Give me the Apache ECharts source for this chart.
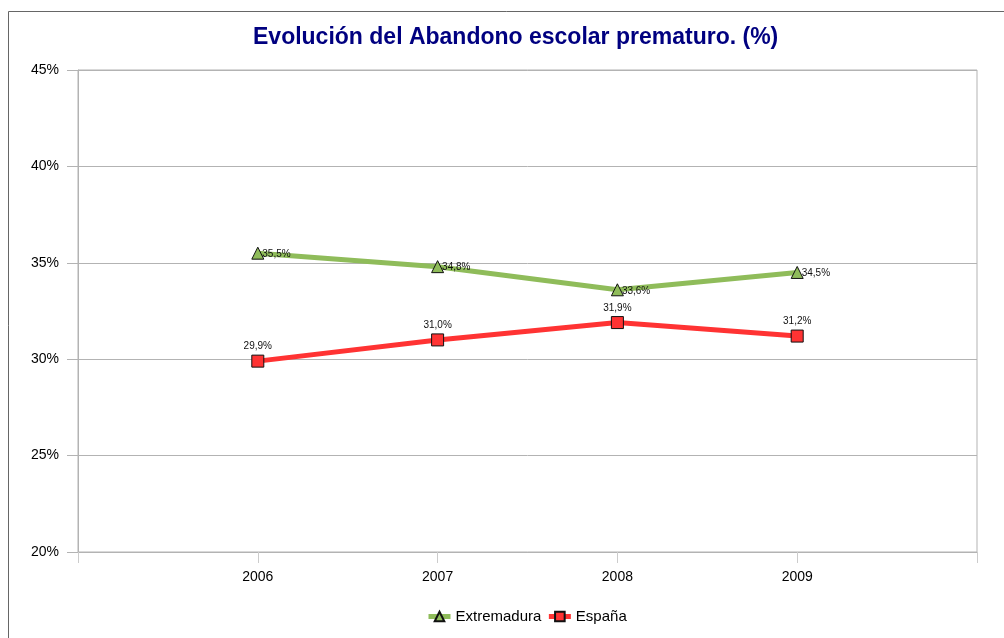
<!DOCTYPE html>
<html>
<head>
<meta charset="utf-8">
<script src="https://cdn.jsdelivr.net/npm/echarts@6/dist/echarts.min.js"></script>
<style>
html, body { margin: 0; padding: 0; background: #fff; }
#chart { width: 1004px; height: 638px; }
</style>
</head>
<body>
<div id="chart"></div>
<script>
var years = [2006, 2007, 2008, 2009];
var extremadura = [35.5, 34.8, 33.6, 34.5];
var espana = [29.9, 31.0, 31.9, 31.2];
var yTicks = [20, 25, 30, 35, 40, 45];

function pairs(vals) {
    return years.map(function (y, i) { return [y, vals[i]]; });
}
function pct(p) {
    return p.value[1].toFixed(1).replace('.', ',') + '%';
}

var chart = echarts.init(document.getElementById('chart'));
chart.setOption({
    textStyle: { fontFamily: 'Liberation Sans' },
    title: {
        text: 'Evolución del Abandono escolar prematuro. (%)',
        left: 253,
        top: 26,
        padding: 0,
        textStyle: { color: '#000080', fontSize: 23, fontWeight: 'bold', fontFamily: 'Liberation Sans' }
    },
    graphic: [{
        type: 'rect',
        shape: { x: 8.5, y: 11.5, width: 1100, height: 700 },
        style: { fill: 'none', stroke: '#666', lineWidth: 1 },
        silent: true
    }],
    grid: {
        left: 78, right: 27, top: 70, bottom: 86,
        show: true, borderColor: '#b3b3b3', borderWidth: 1
    },
    legend: {
        bottom: 14,
        left: 426,
        itemWidth: 22,
        itemHeight: 12,
        itemGap: 5,
        padding: 0,
        lineStyle: { width: 5 },
        textStyle: { fontSize: 15, color: '#000' },
        data: ['Extremadura', 'España']
    },
    xAxis: {
        type: 'value',
        min: years[0] - 1,
        max: years[years.length - 1] + 1,
        interval: 1,
        axisLine: { lineStyle: { color: '#b3b3b3', width: 1 } },
        axisTick: { show: true, length: 11, lineStyle: { color: '#ccc' } },
        splitLine: { show: false },
        axisLabel: {
            margin: 18,
            fontSize: 14,
            color: '#000',
            formatter: function (v) { return years.indexOf(v) >= 0 ? String(v) : ''; }
        }
    },
    yAxis: {
        type: 'value',
        min: yTicks[0],
        max: yTicks[yTicks.length - 1],
        interval: 5,
        axisLine: { show: true, lineStyle: { color: '#b3b3b3' } },
        axisTick: { show: true, length: 11, lineStyle: { color: '#b3b3b3' } },
        splitLine: { lineStyle: { color: '#b3b3b3' } },
        axisLabel: { margin: 19, fontSize: 14, color: '#000', formatter: '{value}%' }
    },
    series: [{
        name: 'Extremadura',
        type: 'line',
        data: pairs(extremadura),
        symbol: 'triangle',
        symbolSize: 12,
        lineStyle: { width: 5, color: '#8fbc5a' },
        itemStyle: { color: '#8fbc5a', borderColor: '#111', borderWidth: 1 },
        label: {
            show: true, position: 'right', distance: 0, offset: [-2, 1],
            fontSize: 10, color: '#111', formatter: pct
        }
    }, {
        name: 'España',
        type: 'line',
        data: pairs(espana),
        symbol: 'rect',
        symbolSize: 12,
        lineStyle: { width: 5, color: '#ff3333' },
        itemStyle: { color: '#ff3333', borderColor: '#111', borderWidth: 1 },
        label: {
            show: true, position: 'top', distance: 3,
            fontSize: 10, color: '#111', formatter: pct
        }
    }]
});
</script>
</body>
</html>
